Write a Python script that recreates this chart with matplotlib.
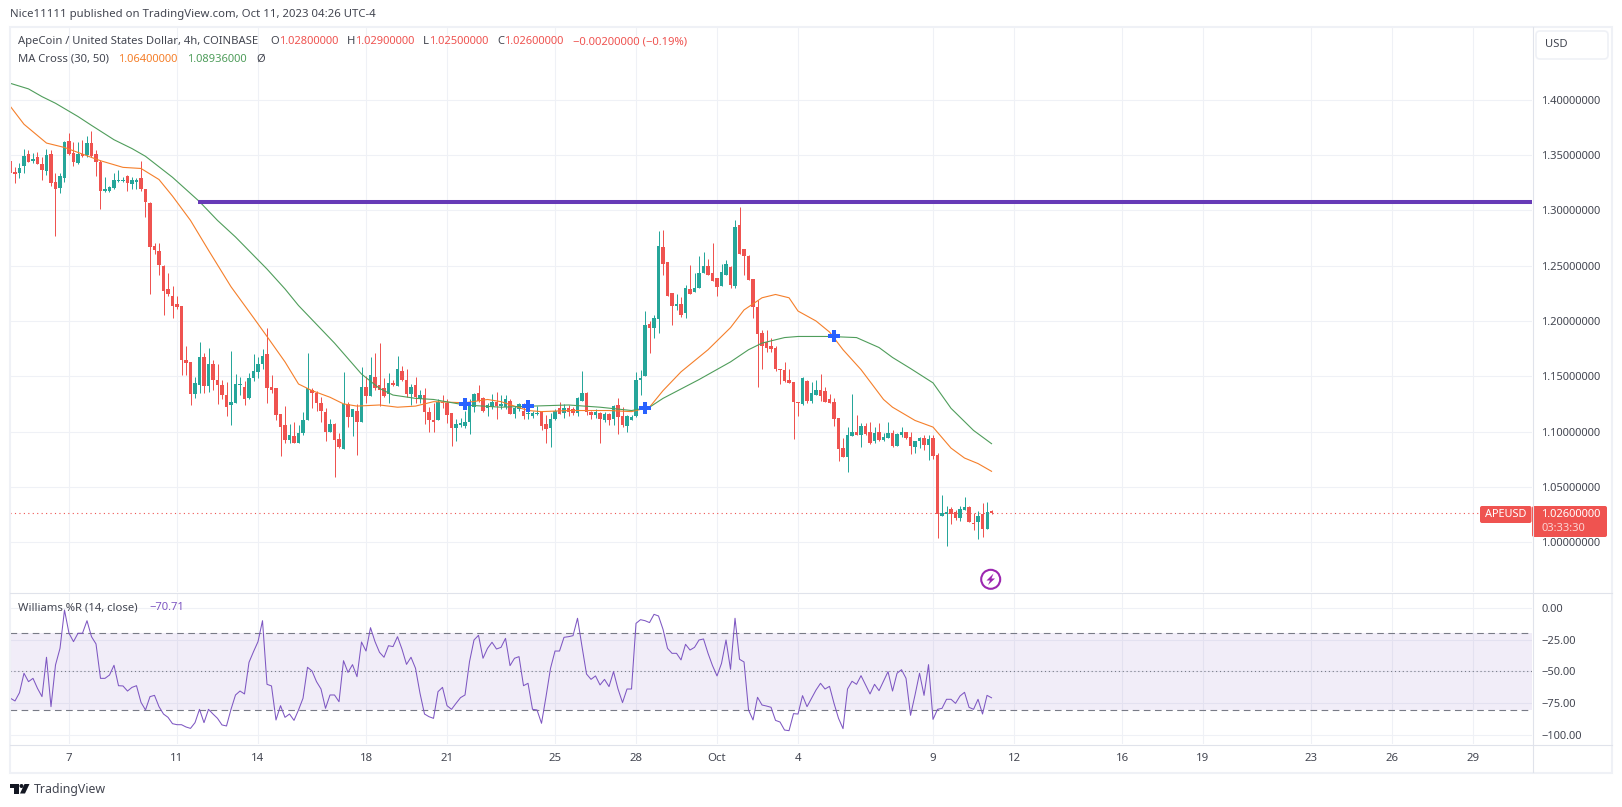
#!/usr/bin/env python3
# APE/USD 4h candles with MA cross and Williams %R panes
import matplotlib
matplotlib.use('Agg')
import matplotlib.pyplot as plt
from matplotlib.patches import Circle, FancyBboxPatch, Polygon, Rectangle

plt.rcParams['font.family'] = ['Noto Sans', 'DejaVu Sans']

W, H = 1622, 807
RED = '#ef5350'
TEAL = '#26a69a'
ORANGE = '#f57f2a'
GREEN = '#4f9d5b'
PURPLE = '#7e57c2'
TXT = '#434651'
GRID = '#eff1f6'
EDGE = '#e0e3eb'

opens = [
    1.345,1.335,1.334,1.340,1.351,1.345,1.348,1.342,1.336,1.351,
    1.326,1.320,1.329,1.363,1.352,1.343,1.351,1.350,1.361,1.351,
    1.344,1.318,1.318,1.320,1.327,1.327,1.331,1.324,1.326,1.329,
    1.319,1.307,1.268,1.263,1.250,1.229,1.223,1.215,1.214,1.165,
    1.163,1.134,1.142,1.167,1.141,1.161,1.147,1.142,1.133,1.124,
    1.126,1.142,1.140,1.130,1.148,1.154,1.161,1.170,1.140,1.139,
    1.116,1.106,1.092,1.096,1.090,1.099,1.110,1.138,1.135,1.126,
    1.118,1.100,1.107,1.093,1.084,1.125,1.113,1.119,1.109,1.140,
    1.132,1.149,1.142,1.139,1.134,1.144,1.141,1.155,1.147,1.134,
    1.142,1.129,1.133,1.118,1.110,1.110,1.127,1.126,1.117,1.103,
    1.106,1.105,1.109,1.122,1.135,1.130,1.121,1.122,1.127,1.123,
    1.122,1.128,1.116,1.120,1.119,1.116,1.114,1.116,1.118,1.107,
    1.103,1.111,1.121,1.117,1.121,1.120,1.117,1.128,1.135,1.118,
    1.115,1.117,1.110,1.116,1.111,1.124,1.114,1.105,1.110,1.114,
    1.147,1.150,1.197,1.194,1.202,1.267,1.253,1.225,1.214,1.215,
    1.207,1.229,1.226,1.230,1.243,1.250,1.243,1.239,1.232,1.242,
    1.249,1.232,1.287,1.265,1.259,1.238,1.213,1.189,1.181,1.177,
    1.176,1.157,1.156,1.147,1.145,1.127,1.125,1.146,1.128,1.133,
    1.138,1.137,1.129,1.127,1.112,1.085,1.077,1.096,1.100,1.097,
    1.105,1.100,1.091,1.100,1.092,1.094,1.099,1.087,1.097,1.100,
    1.095,1.086,1.091,1.094,1.088,1.094,1.079,1.024,1.025,1.030,
    1.027,1.022,1.029,1.032,1.017,1.018,1.025,1.012,1.028]
highs = [
    1.346,1.339,1.343,1.356,1.355,1.352,1.353,1.348,1.356,1.355,
    1.334,1.334,1.363,1.370,1.362,1.362,1.364,1.367,1.372,1.355,
    1.346,1.330,1.322,1.334,1.337,1.330,1.332,1.330,1.329,1.345,
    1.319,1.308,1.271,1.271,1.251,1.243,1.232,1.223,1.214,1.177,
    1.163,1.149,1.181,1.171,1.176,1.165,1.161,1.147,1.145,1.173,
    1.152,1.149,1.146,1.153,1.170,1.167,1.175,1.194,1.151,1.139,
    1.116,1.123,1.107,1.109,1.106,1.118,1.171,1.139,1.137,1.131,
    1.121,1.111,1.108,1.099,1.154,1.127,1.120,1.125,1.158,1.150,
    1.167,1.171,1.180,1.148,1.153,1.147,1.168,1.159,1.157,1.143,
    1.149,1.138,1.139,1.122,1.126,1.129,1.133,1.129,1.117,1.111,
    1.112,1.119,1.129,1.135,1.142,1.131,1.126,1.134,1.136,1.133,
    1.133,1.129,1.123,1.126,1.126,1.122,1.119,1.123,1.119,1.115,
    1.117,1.120,1.127,1.125,1.124,1.122,1.131,1.155,1.136,1.119,
    1.120,1.118,1.118,1.117,1.124,1.130,1.122,1.115,1.115,1.154,
    1.156,1.209,1.200,1.205,1.281,1.282,1.253,1.225,1.224,1.222,
    1.233,1.251,1.243,1.259,1.262,1.256,1.271,1.239,1.252,1.255,
    1.250,1.291,1.303,1.265,1.260,1.238,1.219,1.192,1.192,1.185,
    1.177,1.157,1.163,1.157,1.145,1.127,1.149,1.147,1.145,1.147,
    1.152,1.140,1.134,1.130,1.112,1.094,1.104,1.134,1.115,1.108,
    1.108,1.109,1.104,1.108,1.099,1.109,1.101,1.099,1.104,1.100,
    1.100,1.091,1.095,1.097,1.097,1.097,1.081,1.043,1.033,1.032,
    1.029,1.033,1.041,1.033,1.026,1.028,1.035,1.036,1.029]
lows = [
    1.326,1.325,1.329,1.334,1.344,1.343,1.342,1.328,1.332,1.322,
    1.277,1.316,1.326,1.350,1.340,1.342,1.348,1.348,1.348,1.331,
    1.301,1.317,1.317,1.319,1.326,1.326,1.318,1.319,1.319,1.318,
    1.294,1.224,1.261,1.242,1.205,1.223,1.203,1.211,1.151,1.151,
    1.124,1.130,1.135,1.135,1.136,1.138,1.125,1.129,1.114,1.106,
    1.126,1.133,1.124,1.129,1.146,1.148,1.157,1.126,1.135,1.110,
    1.078,1.090,1.090,1.090,1.090,1.097,1.110,1.121,1.119,1.109,
    1.091,1.100,1.059,1.085,1.084,1.104,1.096,1.079,1.109,1.126,
    1.132,1.138,1.123,1.131,1.126,1.141,1.141,1.146,1.131,1.124,
    1.126,1.126,1.107,1.100,1.100,1.110,1.121,1.108,1.087,1.091,
    1.104,1.103,1.098,1.118,1.127,1.118,1.114,1.120,1.111,1.120,
    1.120,1.116,1.112,1.119,1.111,1.111,1.112,1.115,1.101,1.090,
    1.086,1.110,1.116,1.112,1.114,1.115,1.114,1.128,1.115,1.111,
    1.112,1.090,1.109,1.106,1.106,1.098,1.104,1.100,1.110,1.113,
    1.133,1.150,1.171,1.185,1.189,1.242,1.223,1.196,1.210,1.204,
    1.203,1.224,1.226,1.230,1.243,1.242,1.236,1.223,1.232,1.242,
    1.230,1.230,1.261,1.242,1.237,1.203,1.140,1.157,1.172,1.172,
    1.155,1.143,1.145,1.144,1.093,1.114,1.124,1.126,1.126,1.133,
    1.128,1.127,1.126,1.105,1.073,1.077,1.063,1.096,1.097,1.086,
    1.097,1.089,1.090,1.091,1.091,1.094,1.086,1.087,1.095,1.093,
    1.080,1.081,1.085,1.083,1.074,1.075,1.004,1.024,0.996,1.016,
    1.020,1.019,1.029,1.018,1.011,1.003,1.005,1.012,1.025]
closes = [
    1.334,1.333,1.338,1.349,1.344,1.347,1.342,1.337,1.350,1.325,
    1.319,1.331,1.362,1.351,1.344,1.351,1.349,1.361,1.349,1.344,
    1.318,1.319,1.321,1.328,1.328,1.328,1.325,1.328,1.328,1.319,
    1.308,1.267,1.264,1.251,1.227,1.224,1.214,1.213,1.165,1.162,
    1.134,1.144,1.167,1.141,1.161,1.147,1.142,1.133,1.122,1.127,
    1.143,1.143,1.129,1.148,1.155,1.161,1.168,1.139,1.138,1.115,
    1.104,1.092,1.097,1.090,1.099,1.110,1.139,1.135,1.126,1.119,
    1.100,1.107,1.092,1.086,1.125,1.113,1.120,1.109,1.140,1.132,
    1.151,1.139,1.138,1.132,1.144,1.142,1.157,1.147,1.134,1.140,
    1.131,1.133,1.118,1.110,1.109,1.127,1.126,1.115,1.103,1.107,
    1.108,1.109,1.127,1.134,1.128,1.119,1.124,1.127,1.123,1.125,
    1.129,1.116,1.121,1.125,1.114,1.117,1.117,1.117,1.105,1.102,
    1.111,1.119,1.116,1.121,1.118,1.117,1.130,1.135,1.118,1.115,
    1.118,1.111,1.116,1.110,1.123,1.113,1.106,1.114,1.113,1.147,
    1.148,1.196,1.194,1.203,1.268,1.252,1.223,1.214,1.215,1.205,
    1.230,1.224,1.230,1.243,1.250,1.242,1.236,1.231,1.244,1.252,
    1.233,1.285,1.261,1.259,1.237,1.213,1.188,1.177,1.176,1.175,
    1.157,1.156,1.146,1.144,1.127,1.126,1.148,1.128,1.135,1.138,
    1.132,1.127,1.126,1.111,1.084,1.077,1.097,1.100,1.097,1.105,
    1.098,1.090,1.099,1.092,1.095,1.099,1.087,1.098,1.100,1.094,
    1.087,1.091,1.094,1.088,1.093,1.078,1.025,1.026,1.027,1.025,
    1.022,1.030,1.032,1.018,1.016,1.024,1.012,1.027,1.026]

ma30_bars = [0,3,8,12,20,25,29,33,36,40,44,49,54,57,61,64,67,71,74,77,82,86,90,94,101,106,
             109,115,118,124,128,133,138,142,145,149,155,160,163,167,170,173,175,179,182,
             185,189,194,196,201,205,209,212,215,218]
ma30 = [1.394,1.378,1.361,1.357,1.345,1.339,1.338,1.328,1.313,1.291,1.264,1.231,1.203,1.186,
        1.163,1.143,1.137,1.131,1.125,1.123,1.124,1.122,1.123,1.127,1.126,1.129,
        1.127,1.119,1.118,1.119,1.119,1.119,1.118,1.122,1.137,1.154,1.174,1.194,1.210,1.221,
        1.224,1.221,1.209,1.200,1.190,1.174,1.156,1.129,1.122,1.110,1.104,1.085,1.076,1.071,1.064]
ma50_bars = [0,4,7,10,15,18,23,27,30,36,42,46,50,57,61,64,72,78,82,85,90,94,101,109,116,124,
             131,138,142,145,153,160,164,167,172,175,182,188,193,196,200,205,209,214,218]
ma50 = [1.415,1.410,1.403,1.397,1.385,1.377,1.364,1.356,1.349,1.330,1.308,1.291,1.276,1.247,
        1.229,1.214,1.180,1.152,1.139,1.133,1.130,1.129,1.124,1.122,1.123,1.124,
        1.122,1.119,1.122,1.130,1.147,1.163,1.174,1.180,1.185,1.186,1.186,1.185,1.176,1.167,
        1.157,1.144,1.121,1.101,1.089]

cross_bars = [101, 115, 141, 183]
cross_vals = [1.125, 1.123, 1.121, 1.186]

level_start = 41.7
level_price = 1.3077
last_price = 1.026

wpr = [
    -71.1,-73.2,-66.7,-51.4,-58.0,-55.4,-63.3,-69.8,-38.8,-77.7,
    -44.9,-31.8,-1.6,-19.9,-26.5,-19.9,-19.9,-10.0,-22.6,-28.3,
    -55.4,-55.4,-52.8,-45.1,-61.2,-61.4,-65.4,-62.5,-61.2,-74.3,
    -80.3,-69.8,-68.8,-77.7,-83.5,-86.1,-91.1,-91.9,-91.9,-93.7,
    -94.8,-90.3,-79.8,-90.3,-79.8,-83.5,-86.9,-92.1,-92.9,-79.8,
    -68.5,-65.4,-67.7,-42.8,-34.4,-26.5,-10.0,-60.1,-61.4,-88.2,
    -76.9,-86.1,-83.5,-88.5,-80.3,-71.1,-46.7,-49.6,-58.0,-63.8,
    -79.0,-68.5,-68.5,-73.8,-41.5,-50.7,-44.6,-54.1,-26.8,-33.9,
    -15.5,-26.5,-34.9,-38.8,-29.7,-30.4,-22.6,-32.5,-44.4,-38.8,
    -47.5,-67.2,-83.5,-85.6,-86.9,-65.9,-62.5,-76.9,-79.8,-75.1,
    -70.6,-68.5,-42.3,-25.2,-21.5,-39.6,-31.8,-27.0,-32.3,-31.0,
    -23.9,-45.4,-39.6,-38.3,-61.2,-59.3,-79.8,-80.3,-90.8,-69.8,
    -47.5,-33.9,-33.9,-23.1,-22.6,-21.8,-8.1,-30.4,-52.0,-56.2,
    -53.5,-60.6,-56.2,-61.9,-50.1,-63.8,-74.5,-63.8,-63.8,-12.1,
    -9.2,-10.0,-11.5,-5.0,-6.3,-16.8,-31.8,-35.7,-35.7,-40.9,
    -28.6,-33.1,-31.0,-25.2,-24.4,-35.7,-45.4,-53.5,-43.6,-25.2,
    -48.3,-8.1,-40.4,-42.5,-80.3,-88.2,-70.3,-76.4,-77.2,-78.2,
    -88.5,-89.8,-96.1,-96.6,-83.2,-83.5,-69.0,-77.7,-71.1,-64.6,
    -59.3,-63.8,-61.7,-75.1,-86.9,-95.0,-63.8,-57.7,-60.1,-53.3,
    -60.6,-67.7,-60.1,-65.1,-57.7,-50.1,-65.4,-51.4,-48.6,-55.4,
    -84.5,-68.5,-51.4,-68.8,-44.6,-87.7,-79.8,-79.0,-71.9,-71.9,
    -75.1,-69.3,-66.4,-78.2,-79.8,-71.9,-83.5,-68.8,-70.71]

date_bars = [13, 37, 55, 79, 97, 121, 139, 157, 175, 205, 223, 247, 265, 289, 307, 325]
date_labels = ['7', '11', '14', '18', '21', '25', '28', 'Oct', '4', '9', '12', '16', '19', '23', '26', '29']
price_ticks = [1.00, 1.05, 1.10, 1.15, 1.20, 1.25, 1.30, 1.35, 1.40]
wpr_ticks = [0, -25, -50, -75, -100]
wpr_upper = -20
wpr_mid = -50
wpr_lower = -80

XLIM = (-0.11, 338.1)


def pane(left, top, right, bottom):
    return fig.add_axes([left / W, 1 - bottom / H, (right - left) / W, (bottom - top) / H])


fig = plt.figure(figsize=(W / 100, H / 100), dpi=100, facecolor='white')

# price pane
ax = pane(10, 27, 1532, 592)
ax.set_xlim(XLIM)
ax.set_ylim(0.9548, 1.466)
bars = range(len(closes))
cols = [TEAL if c >= o else RED for o, c in zip(opens, closes)]
ax.vlines(bars, lows, highs, colors=cols, linewidth=0.72, zorder=3)
ax.bar(bars, [abs(c - o) for o, c in zip(opens, closes)],
       bottom=[min(o, c) for o, c in zip(opens, closes)],
       width=0.68, color=cols, linewidth=0, zorder=4)
ax.plot(ma30_bars, ma30, color=ORANGE, lw=0.8, zorder=5)
ax.plot(ma50_bars, ma50, color=GREEN, lw=0.8, zorder=5)
ax.plot(cross_bars, cross_vals, 'P', color='#2962ff', ms=9, mew=0, zorder=6)
ax.plot([level_start, XLIM[1]], [level_price, level_price], color='#673ab7', lw=2.9,
        solid_capstyle='butt', zorder=6)
ax.plot([XLIM[0], 326.5], [last_price, last_price], color=RED, lw=0.8, ls=(0, (1, 3)), zorder=2)
ax.set_yticks(price_ticks)
ax.set_yticklabels(['%.8f' % p for p in price_ticks])
ax.set_xticks(date_bars)
ax.tick_params(axis='x', length=0, labelbottom=False)

# oscillator pane
ax2 = pane(10, 593, 1532, 744)
ax2.set_xlim(XLIM)
ax2.set_ylim(-107.1, 11.8)
ax2.axhspan(wpr_lower, wpr_upper, color=PURPLE, alpha=0.1, lw=0, zorder=1)
ax2.axhline(wpr_upper, color='#787b86', lw=0.8, ls=(0, (6, 4)), zorder=2)
ax2.axhline(wpr_lower, color='#787b86', lw=0.8, ls=(0, (6, 4)), zorder=2)
ax2.axhline(wpr_mid, color='#787b86', lw=0.8, ls=(0, (1, 2.5)), zorder=2)
ax2.plot(bars, wpr, color=PURPLE, lw=0.75, zorder=4)
ax2.set_yticks(wpr_ticks)
ax2.set_yticklabels(['%.2f' % v if v == 0 else '\u2212%.2f' % abs(v) for v in wpr_ticks])
ax2.set_xticks(date_bars)
ax2.set_xticklabels(date_labels)

for a in (ax, ax2):
    a.set_facecolor('none')
    a.grid(True, color=GRID, lw=0.8, zorder=0)
    a.set_axisbelow(True)
    a.yaxis.tick_right()
    a.tick_params(axis='y', length=0, pad=6.5, labelsize=8.0, labelcolor=TXT)
    for s in a.spines.values():
        s.set_visible(False)
ax2.tick_params(axis='x', length=0, pad=6.8, labelsize=8.2, labelcolor=TXT)

# frame, labels and badges in pixel coordinates
ov = fig.add_axes([0, 0, 1, 1], zorder=10)
ov.set_xlim(0, W)
ov.set_ylim(H, 0)
ov.axis('off')

ov.add_patch(Rectangle((9.5, 26.5), 1602.5, 746, fill=False, ec=GRID, lw=1.5))
ov.plot([1532.5, 1532.5], [27, 772], color=EDGE, lw=0.8)
ov.plot([10, 1612], [592.5, 592.5], color=EDGE, lw=0.8)
ov.plot([10, 1612], [744.5, 744.5], color=EDGE, lw=0.8)


def label(x, y, s, color=TXT, size=8.1, **kw):
    ov.text(x, y, s, color=color, fontsize=size, va='center', ha=kw.pop('ha', 'left'), **kw)


label(10, 15, 'Nice11111 published on TradingView.com, Oct 11, 2023 04:26 UTC-4', size=8.2)
label(18, 41.5, 'ApeCoin / United States Dollar, 4h, COINBASE')
label(270, 41.5, 'O')
label(279, 41.5, '1.02800000', RED, size=8.0)
label(347, 41.5, 'H')
label(355, 41.5, '1.02900000', RED, size=8.0)
label(423, 41.5, 'L')
label(429, 41.5, '1.02500000', RED, size=8.0)
label(497, 41.5, 'C')
label(504, 41.5, '1.02600000', RED, size=8.0)
label(573, 41.5, '\u22120.00200000 (\u22120.19%)', RED)
label(18, 59, 'MA Cross (30, 50)')
label(118.5, 59, '1.06400000', ORANGE, size=8.0)
label(187, 59, '1.08936000', GREEN, size=8.0)
label(256, 59, '\u00d8')
label(18, 608, 'Williams %R (14, close)')
label(149, 608, '\u221270.71', PURPLE)

# currency button
ov.add_patch(FancyBboxPatch((1538, 33), 68, 24, boxstyle='round,pad=2,rounding_size=4',
                            fc='white', ec=GRID, lw=1.2))
label(1545, 44.5, 'USD')

# last price badges
ov.add_patch(FancyBboxPatch((1481, 507), 49.5, 15, boxstyle='round,pad=1,rounding_size=2',
                            fc=RED, ec='none'))
ov.add_patch(FancyBboxPatch((1533, 507), 73, 29, boxstyle='round,pad=1,rounding_size=2',
                            fc=RED, ec='none'))
label(1485, 514.5, 'APEUSD', 'white', size=7.9, fontweight='semibold')
label(1541, 514.5, '1.02600000', 'white', size=8.0, fontweight='semibold')
label(1541, 528.5, '03:33:30', '#fbd3d2', size=8.0)

# lightning badge
ov.add_patch(Circle((990.7, 579.3), 9.5, fc='white', ec='#9c27b0', lw=1.5))
ov.add_patch(Polygon([(993.5, 573.5), (986.5, 580.5), (990, 580.5), (988, 585), (995, 578.5),
                      (991.5, 578.5)], fc='#9c27b0', ec='none'))

# footer logo
ov.add_patch(Polygon([(10, 784), (19, 784), (19, 793.5), (14, 793.5), (14, 788), (10, 788)],
                     fc='#131722', ec='none'))
ov.add_patch(Circle((21.5, 786), 2, fc='#131722', ec='none'))
ov.add_patch(Polygon([(24.5, 784), (29.5, 784), (25, 793.5), (20, 793.5)], fc='#131722', ec='none'))
label(33.5, 790, 'TradingView', size=8.9)

fig.savefig('out.png', dpi=100, facecolor='white')
